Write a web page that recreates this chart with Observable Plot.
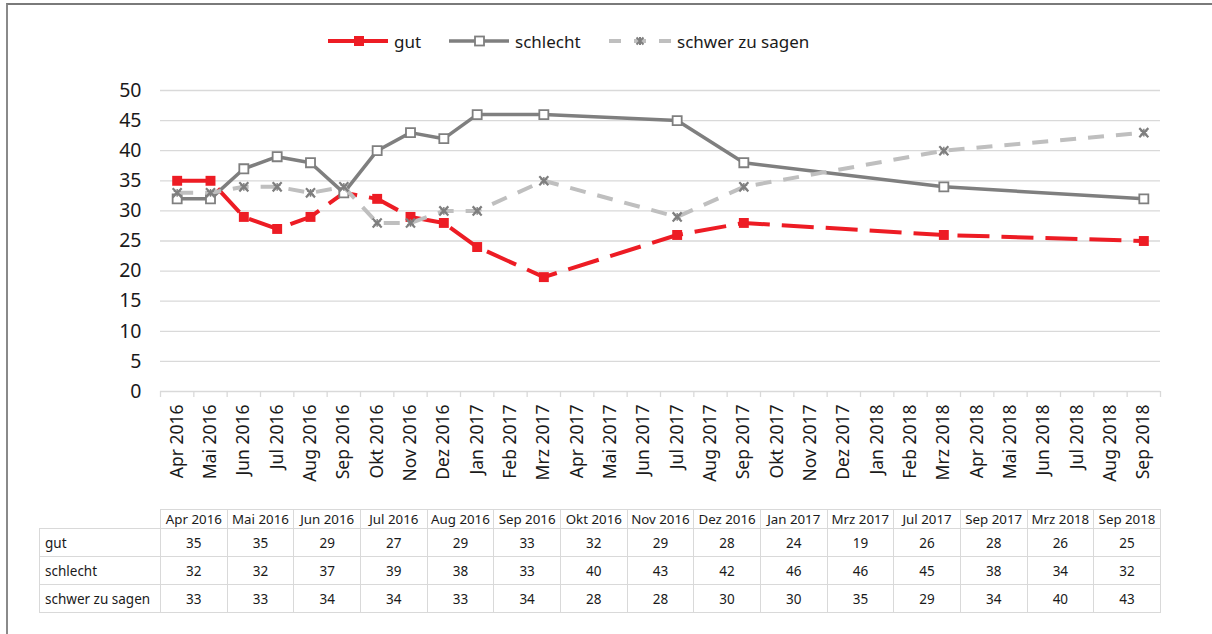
<!DOCTYPE html>
<html><head><meta charset="utf-8">
<script src="https://cdn.jsdelivr.net/npm/d3@7"></script>
<script src="https://cdn.jsdelivr.net/npm/@observablehq/plot@0.6"></script>
<style>
html,body{margin:0;padding:0;background:#fff;}
body{width:1212px;height:634px;overflow:hidden;font-family:"Noto Sans",sans-serif;color:#1a1a1a;position:relative;}
#frame{position:absolute;left:6px;top:3px;width:1206px;height:631px;border-top:2px solid #7a7a7a;border-left:2px solid #8a8a8a;box-sizing:border-box;}
#legend{position:relative;height:72px;}
.item{position:absolute;top:25px;height:22px;display:flex;align-items:center;font-size:17px;white-space:nowrap;}
.item svg{margin-right:6px;display:block;}
#chart svg{display:block;}
table{border-collapse:collapse;margin-left:31px;font-size:13.5px;table-layout:fixed;}
td,th{border:1px solid #d9d9d9;padding:0;font-weight:normal;}
th{height:18px;line-height:18px;text-align:center;white-space:nowrap;font-size:13.3px;}
td{height:27px;text-align:center;}
td.lab{text-align:left;padding-left:5px;}
th.blank{border:none;}
</style>
</head><body>
<div id="frame">
  <div id="legend"></div>
  <div id="chart"></div>
  <div id="tab"></div>
</div>
<script>
// x-axis tick labels (every month)
const months = ["Apr 2016","Mai 2016","Jun 2016","Jul 2016","Aug 2016","Sep 2016","Okt 2016","Nov 2016","Dez 2016",
  "Jan 2017","Feb 2017","Mrz 2017","Apr 2017","Mai 2017","Jun 2017","Jul 2017","Aug 2017","Sep 2017","Okt 2017","Nov 2017","Dez 2017",
  "Jan 2018","Feb 2018","Mrz 2018","Apr 2018","Mai 2018","Jun 2018","Jul 2018","Aug 2018","Sep 2018"];
// survey dates
const dates = ["Apr 2016","Mai 2016","Jun 2016","Jul 2016","Aug 2016","Sep 2016","Okt 2016","Nov 2016","Dez 2016",
  "Jan 2017","Mrz 2017","Jul 2017","Sep 2017","Mrz 2018","Sep 2018"];
const gut      = [35,35,29,27,29,33,32,29,28,24,19,26,28,26,25];
const schlecht = [32,32,37,39,38,33,40,43,42,46,46,45,38,34,32];
const schwer   = [33,33,34,34,33,34,28,28,30,30,35,29,34,40,43];
const seriesNames = ["gut","schlecht","schwer zu sagen"];
const yTicks = [0,5,10,15,20,25,30,35,40,45,50];

const rows = vals => dates.map((d,k) => ({i: months.indexOf(d), v: vals[k]}));
const gutD = rows(gut), schD = rows(schlecht), swD = rows(schwer);

const RED = "#ed1c24", DARK = "#7f7f7f", LIGHT = "#bfbfbf";

// legend
const legendDefs = [
  {name: seriesNames[0], left: 320, svg: `<svg width="60" height="14"><line x1="0" y1="7" x2="60" y2="7" stroke="${RED}" stroke-width="4" stroke-dasharray="26 4 30"/><rect x="26" y="2" width="10" height="10" fill="${RED}"/></svg>`},
  {name: seriesNames[1], left: 441, svg: `<svg width="60" height="14"><line x1="0" y1="7" x2="60" y2="7" stroke="${DARK}" stroke-width="3.5"/><rect x="26" y="2.5" width="9" height="9" fill="#fff" stroke="${DARK}" stroke-width="1.8"/></svg>`},
  {name: seriesNames[2], left: 601, svg: `<svg width="62" height="14"><line x1="0" y1="7" x2="62" y2="7" stroke="${LIGHT}" stroke-width="4" stroke-dasharray="12 13 12 13 12"/><path transform="translate(31,7)" d="M-3.5,-3.5L3.5,3.5M-3.5,3.5L3.5,-3.5M0,-4L0,4" stroke="${DARK}" stroke-width="2"/></svg>`}
];
const lg = document.getElementById("legend");
for (const d of legendDefs) {
  const el = document.createElement("div");
  el.className = "item";
  el.style.left = d.left + "px";
  el.innerHTML = d.svg + `<span>${d.name}</span>`;
  lg.appendChild(el);
}

const boundaries = d3.range(months.length + 1).map(k => k - 0.5);

const chart = Plot.plot({
  width: 1204, height: 432,
  marginLeft: 152, marginRight: 52, marginTop: 13, marginBottom: 118,
  style: {fontFamily: "Noto Sans, sans-serif", background: "#fff", color: "#1a1a1a", overflow: "visible"},
  x: {type: "linear", domain: [-0.5, months.length - 0.5], label: null},
  y: {domain: [0, 50], label: null},
  marks: [
    Plot.ruleY(yTicks, {stroke: "#d9d9d9", strokeWidth: 1.3}),
    Plot.axisX({ticks: boundaries, tickFormat: () => "", tickSize: 6, stroke: "#d9d9d9", strokeWidth: 1.3, label: null}),
    Plot.axisX({ticks: d3.range(months.length), tickFormat: k => months[k], tickRotate: -90, tickSize: 0, tickPadding: 13, fontSize: 17.5, fill: "#1a1a1a", label: null}),
    Plot.axisY({ticks: yTicks, tickSize: 0, tickPadding: 19, fontSize: 19.5, fill: "#1a1a1a", label: null}),
    Plot.line(gutD, {x: "i", y: "v", stroke: RED, strokeWidth: 4, strokeDasharray: "32 12", strokeLinecap: "butt"}),
    Plot.dot(gutD, {x: "i", y: "v", symbol: "square", r: 5.6, fill: RED}),
    Plot.line(schD, {x: "i", y: "v", stroke: DARK, strokeWidth: 3.5}),
    Plot.dot(schD, {x: "i", y: "v", symbol: "square", r: 5.1, fill: "#fff", stroke: DARK, strokeWidth: 1.8}),
    Plot.line(swD, {x: "i", y: "v", stroke: LIGHT, strokeWidth: 4, strokeDasharray: "16 12", strokeLinecap: "butt"}),
    Plot.dot(swD, {x: "i", y: "v", symbol: "times", r: 4.2, stroke: DARK, strokeWidth: 2.2}),
    Plot.dot(swD, {x: "i", y: "v", symbol: "asterisk", r: 3.6, stroke: DARK, strokeWidth: 1.4})
  ]
});
document.getElementById("chart").appendChild(chart);

// data table
const colW = 1000 / dates.length;
let html = `<table><colgroup><col style="width:121px">` + dates.map(() => `<col style="width:${colW}px">`).join("") + `</colgroup>`;
html += `<tr><th class="blank"></th>` + dates.map(d => `<th>${d}</th>`).join("") + `</tr>`;
[[seriesNames[0], gut], [seriesNames[1], schlecht], [seriesNames[2], schwer]].forEach(([n, vals]) => {
  html += `<tr><td class="lab">${n}</td>` + vals.map(v => `<td>${v}</td>`).join("") + `</tr>`;
});
html += `</table>`;
document.getElementById("tab").innerHTML = html;
</script>
</body></html>
